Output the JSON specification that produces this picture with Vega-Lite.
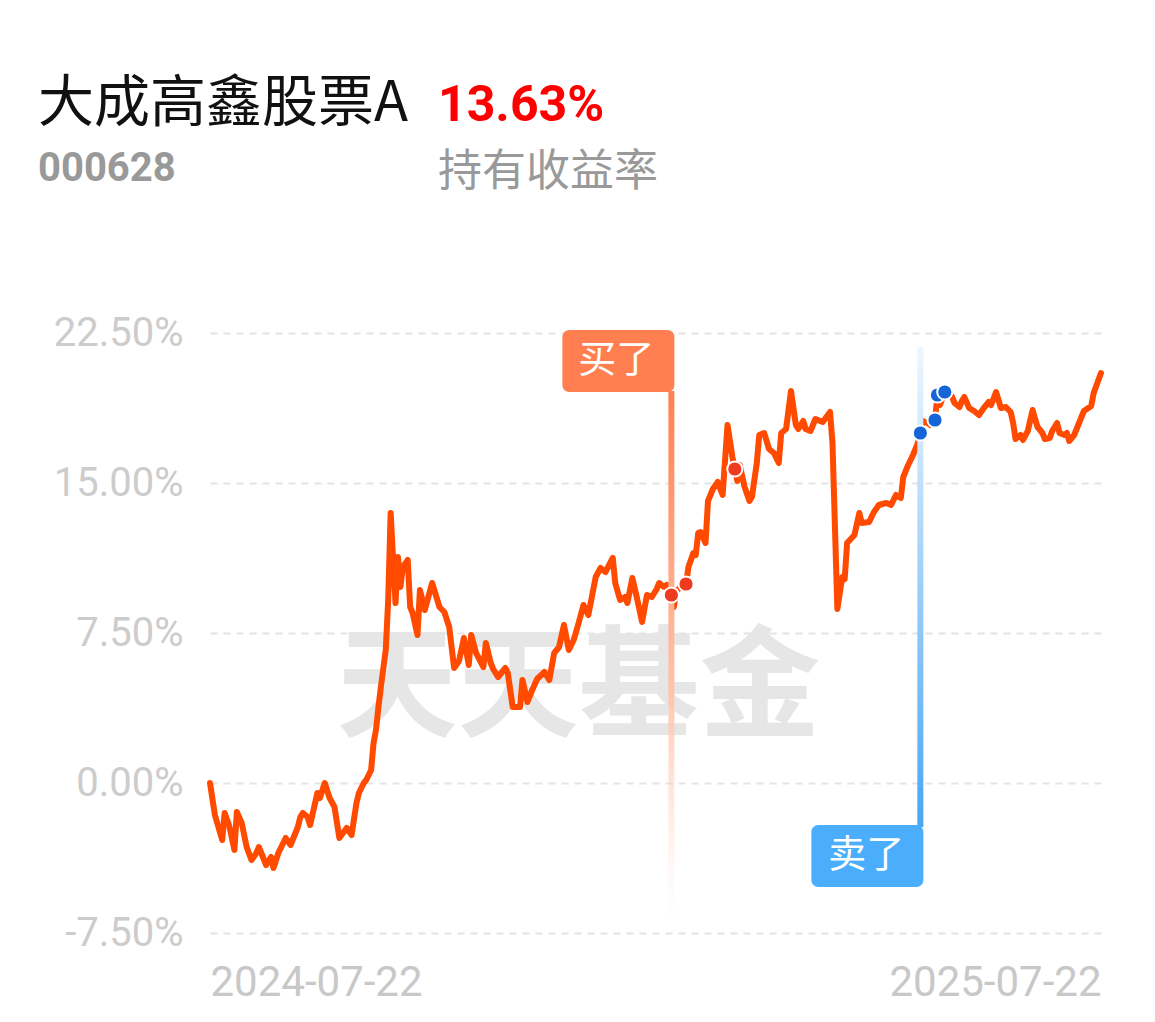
{
  "$schema": "https://vega.github.io/schema/vega-lite/v6.json",
  "background": "white",
  "padding": {"left": 38, "top": 76, "right": 20, "bottom": 16},
  "config": {"view": {"stroke": null}, "font": "Noto Sans CJK SC"},
  "datasets": {
    "nav": [
      {"date":"2024-07-22","value":0.0},{"date":"2024-07-24","value":-1.6},{"date":"2024-07-27","value":-2.85},{"date":"2024-07-28","value":-1.5},{"date":"2024-07-30","value":-2.2},
      {"date":"2024-08-01","value":-3.35},{"date":"2024-08-02","value":-1.45},{"date":"2024-08-04","value":-2.0},{"date":"2024-08-06","value":-3.2},{"date":"2024-08-08","value":-3.85},
      {"date":"2024-08-10","value":-3.5},{"date":"2024-08-11","value":-3.2},{"date":"2024-08-14","value":-4.1},{"date":"2024-08-16","value":-3.7},{"date":"2024-08-17","value":-4.25},
      {"date":"2024-08-19","value":-3.5},{"date":"2024-08-22","value":-2.75},{"date":"2024-08-24","value":-3.1},{"date":"2024-08-27","value":-2.2},{"date":"2024-08-28","value":-1.7},
      {"date":"2024-08-29","value":-1.5},{"date":"2024-08-31","value":-1.7},{"date":"2024-09-01","value":-2.1},{"date":"2024-09-04","value":-0.5},{"date":"2024-09-05","value":-0.75},
      {"date":"2024-09-07","value":0.0},{"date":"2024-09-09","value":-0.75},{"date":"2024-09-11","value":-1.2},{"date":"2024-09-13","value":-2.75},{"date":"2024-09-16","value":-2.25},
      {"date":"2024-09-18","value":-2.6},{"date":"2024-09-20","value":-1.0},{"date":"2024-09-21","value":-0.5},{"date":"2024-09-23","value":0.0},{"date":"2024-09-24","value":0.15},
      {"date":"2024-09-26","value":0.65},{"date":"2024-09-27","value":2.0},{"date":"2024-09-28","value":2.65},{"date":"2024-09-29","value":3.8},{"date":"2024-09-30","value":4.8},
      {"date":"2024-10-02","value":6.65},{"date":"2024-10-03","value":9.15},{"date":"2024-10-04","value":13.5},{"date":"2024-10-06","value":9.0},{"date":"2024-10-07","value":11.3},
      {"date":"2024-10-08","value":9.8},{"date":"2024-10-09","value":10.8},{"date":"2024-10-11","value":11.15},{"date":"2024-10-12","value":8.8},{"date":"2024-10-13","value":8.5},
      {"date":"2024-10-15","value":7.4},{"date":"2024-10-16","value":9.65},{"date":"2024-10-18","value":8.65},{"date":"2024-10-21","value":10.0},{"date":"2024-10-23","value":9.2},
      {"date":"2024-10-24","value":8.8},{"date":"2024-10-26","value":8.55},{"date":"2024-10-28","value":7.8},{"date":"2024-10-30","value":5.75},{"date":"2024-11-01","value":6.1},
      {"date":"2024-11-03","value":7.25},{"date":"2024-11-05","value":5.9},{"date":"2024-11-06","value":7.4},{"date":"2024-11-08","value":6.5},{"date":"2024-11-11","value":5.8},
      {"date":"2024-11-12","value":7.0},{"date":"2024-11-14","value":6.0},{"date":"2024-11-15","value":5.7},{"date":"2024-11-17","value":5.3},{"date":"2024-11-20","value":5.75},
      {"date":"2024-11-21","value":5.5},{"date":"2024-11-23","value":3.8},{"date":"2024-11-26","value":3.8},{"date":"2024-11-27","value":5.15},{"date":"2024-11-29","value":4.05},
      {"date":"2024-12-01","value":4.65},{"date":"2024-12-03","value":5.2},{"date":"2024-12-06","value":5.55},{"date":"2024-12-08","value":5.15},{"date":"2024-12-10","value":6.5},
      {"date":"2024-12-12","value":6.8},{"date":"2024-12-14","value":7.9},{"date":"2024-12-16","value":6.65},{"date":"2024-12-18","value":7.15},{"date":"2024-12-20","value":8.0},
      {"date":"2024-12-22","value":8.9},{"date":"2024-12-24","value":8.4},{"date":"2024-12-27","value":10.3},{"date":"2024-12-29","value":10.75},{"date":"2024-12-31","value":10.55},
      {"date":"2025-01-03","value":11.25},{"date":"2025-01-04","value":10.0},{"date":"2025-01-06","value":9.15},{"date":"2025-01-08","value":9.3},{"date":"2025-01-09","value":9.0},
      {"date":"2025-01-11","value":10.25},{"date":"2025-01-13","value":9.2},{"date":"2025-01-15","value":8.05},{"date":"2025-01-17","value":9.4},{"date":"2025-01-19","value":9.3},
      {"date":"2025-01-21","value":9.7},{"date":"2025-01-22","value":10.0},{"date":"2025-01-24","value":9.8},{"date":"2025-01-25","value":9.9},{"date":"2025-01-27","value":9.4},
      {"date":"2025-01-28","value":8.8},{"date":"2025-01-29","value":9.6},{"date":"2025-01-31","value":9.8},{"date":"2025-02-02","value":9.95},{"date":"2025-02-03","value":10.8},
      {"date":"2025-02-05","value":11.5},{"date":"2025-02-06","value":11.4},{"date":"2025-02-07","value":12.5},{"date":"2025-02-08","value":12.55},{"date":"2025-02-10","value":12.0},
      {"date":"2025-02-11","value":14.1},{"date":"2025-02-13","value":14.7},{"date":"2025-02-15","value":15.05},{"date":"2025-02-17","value":14.4},{"date":"2025-02-19","value":17.9},
      {"date":"2025-02-21","value":16.3},{"date":"2025-02-22","value":15.7},{"date":"2025-02-23","value":15.1},{"date":"2025-02-24","value":15.9},{"date":"2025-02-26","value":14.8},
      {"date":"2025-02-28","value":14.1},{"date":"2025-03-01","value":14.3},{"date":"2025-03-03","value":16.0},{"date":"2025-03-04","value":17.4},{"date":"2025-03-06","value":17.5},
      {"date":"2025-03-08","value":16.7},{"date":"2025-03-10","value":16.5},{"date":"2025-03-12","value":16.0},{"date":"2025-03-13","value":17.5},{"date":"2025-03-15","value":17.7},
      {"date":"2025-03-17","value":19.6},{"date":"2025-03-19","value":17.9},{"date":"2025-03-20","value":17.7},{"date":"2025-03-22","value":18.1},{"date":"2025-03-23","value":17.7},
      {"date":"2025-03-25","value":17.6},{"date":"2025-03-27","value":18.2},{"date":"2025-03-29","value":18.1},{"date":"2025-03-30","value":18.05},{"date":"2025-04-02","value":18.55},
      {"date":"2025-04-03","value":17.0},{"date":"2025-04-05","value":8.7},{"date":"2025-04-07","value":10.3},{"date":"2025-04-08","value":10.2},{"date":"2025-04-09","value":12.0},
      {"date":"2025-04-12","value":12.4},{"date":"2025-04-14","value":13.5},{"date":"2025-04-15","value":13.0},{"date":"2025-04-18","value":13.05},{"date":"2025-04-20","value":13.55},
      {"date":"2025-04-22","value":13.9},{"date":"2025-04-25","value":14.0},{"date":"2025-04-27","value":13.9},{"date":"2025-04-29","value":14.4},{"date":"2025-05-01","value":14.25},
      {"date":"2025-05-02","value":15.3},{"date":"2025-05-04","value":15.9},{"date":"2025-05-06","value":16.4},{"date":"2025-05-08","value":17.0},{"date":"2025-05-09","value":17.5},
      {"date":"2025-05-10","value":18.1},{"date":"2025-05-12","value":18.0},{"date":"2025-05-13","value":17.9},{"date":"2025-05-15","value":18.15},{"date":"2025-05-16","value":19.4},
      {"date":"2025-05-17","value":18.9},{"date":"2025-05-19","value":19.55},{"date":"2025-05-20","value":19.6},{"date":"2025-05-22","value":19.3},{"date":"2025-05-23","value":19.0},
      {"date":"2025-05-25","value":18.8},{"date":"2025-05-26","value":19.1},{"date":"2025-05-27","value":19.3},{"date":"2025-05-29","value":18.75},{"date":"2025-05-31","value":18.6},
      {"date":"2025-06-02","value":18.4},{"date":"2025-06-04","value":18.75},{"date":"2025-06-06","value":19.05},{"date":"2025-06-07","value":18.9},{"date":"2025-06-09","value":19.55},
      {"date":"2025-06-11","value":18.75},{"date":"2025-06-13","value":18.8},{"date":"2025-06-15","value":18.55},{"date":"2025-06-16","value":18.0},{"date":"2025-06-17","value":17.2},
      {"date":"2025-06-19","value":17.4},{"date":"2025-06-20","value":17.15},{"date":"2025-06-22","value":17.6},{"date":"2025-06-24","value":18.65},{"date":"2025-06-25","value":18.2},
      {"date":"2025-06-26","value":17.8},{"date":"2025-06-28","value":17.5},{"date":"2025-06-29","value":17.2},{"date":"2025-07-01","value":17.25},{"date":"2025-07-02","value":17.6},
      {"date":"2025-07-04","value":18.0},{"date":"2025-07-05","value":17.5},{"date":"2025-07-07","value":17.4},{"date":"2025-07-08","value":17.5},{"date":"2025-07-09","value":17.1},
      {"date":"2025-07-11","value":17.4},{"date":"2025-07-13","value":18.0},{"date":"2025-07-15","value":18.6},{"date":"2025-07-18","value":18.85},{"date":"2025-07-19","value":19.5},
      {"date":"2025-07-22","value":20.5}
    ],
    "trades": [
      {"date":"2025-01-27","value":9.4,"side":"buy"},
      {"date":"2025-02-02","value":9.95,"side":"buy"},
      {"date":"2025-02-22","value":15.7,"side":"buy"},
      {"date":"2025-05-09","value":17.5,"side":"sell"},
      {"date":"2025-05-15","value":18.15,"side":"sell"},
      {"date":"2025-05-16","value":19.4,"side":"sell"},
      {"date":"2025-05-19","value":19.55,"side":"sell"}
    ],
    "flags": [
      {"date":"2025-01-27","label":"买了","side":"buy"},
      {"date":"2025-05-09","label":"卖了","side":"sell"}
    ],
    "watermark": [
      {"date":"2024-12-20","value":4.6,"label":"天天基金"}
    ]
  },
  "spacing": 116,
  "vconcat": [
    {
      "spacing": 3,
      "hconcat": [
        {
          "width": 225, "height": 1,
          "data": {"values": []},
          "mark": "point",
          "encoding": {},
          "title": {
            "text": "大成高鑫股票A", "subtitle": "000628", "anchor": "start", "offset": 5, "dx": -172,
            "font": "Noto Sans CJK SC", "fontSize": 56, "fontWeight": "normal", "color": "#111111",
            "subtitleFont": "Roboto", "subtitleFontSize": 40, "subtitleFontWeight": "bold",
            "subtitleColor": "#999999", "subtitlePadding": 16
          }
        },
        {
          "width": 230, "height": 1,
          "data": {"values": []},
          "mark": "point",
          "encoding": {},
          "title": {
            "text": "13.63%", "subtitle": "持有收益率", "anchor": "start", "offset": 0,
            "font": "Roboto", "fontSize": 50, "fontWeight": "bold", "color": "#FF0000",
            "subtitleFont": "Noto Sans CJK SC", "subtitleFontSize": 44, "subtitleFontWeight": "normal",
            "subtitleColor": "#999999", "subtitlePadding": 20
          }
        }
      ]
    },
    {
      "width": 891, "height": 605,
      "layer": [
        {
          "data": {"name": "watermark"},
          "mark": {"type": "text", "font": "Noto Sans CJK SC", "fontWeight": "bold", "fontSize": 121, "color": "#E6E6E6", "align": "center", "baseline": "middle"},
          "encoding": {
            "x": {"field": "date", "type": "temporal", "title": null},
            "y": {"field": "value", "type": "quantitative", "title": null},
            "text": {"field": "label"}
          }
        },
        {
          "data": {"name": "nav"},
          "mark": {"type": "line", "color": "#FF4A00", "strokeWidth": 6, "strokeJoin": "round", "strokeCap": "round"},
          "encoding": {
            "x": {
              "field": "date", "type": "temporal", "title": null,
              "scale": {"type": "utc", "domain": [{"year": 2024, "month": 7, "date": 22, "utc": true}, {"year": 2025, "month": 7, "date": 22, "utc": true}]},
              "axis": {
                "title": null, "values": [{"year": 2024, "month": 7, "date": 22, "utc": true}, {"year": 2025, "month": 7, "date": 22, "utc": true}],
                "format": "%Y-%m-%d", "labelFlush": true, "labelLimit": 500, "labelFont": "Roboto", "labelFontSize": 42, "labelColor": "#C8C8C8",
                "labelPadding": 29, "ticks": false, "domain": false, "grid": false
              }
            },
            "y": {
              "field": "value", "type": "quantitative", "title": null,
              "scale": {"domain": [-7.5, 22.75], "nice": false, "zero": false},
              "axis": {
                "title": null, "values": [-7.5, 0, 7.5, 15, 22.5], "labelExpr": "(datum.value < 0 ? '-' : '') + format(abs(datum.value), '.2f') + '%'",
                "labelFont": "Roboto", "labelFontSize": 40, "labelColor": "#CCCCCC", "labelPadding": 27, "labelLimit": 300,
                "ticks": false, "domain": false, "grid": true, "gridColor": "#E4E4E4", "gridWidth": 2, "gridDash": [7, 6],
                "minExtent": 172, "maxExtent": 172
              }
            }
          }
        },
        {
          "data": {"name": "flags"},
          "transform": [{"filter": "datum.side === 'buy'"}],
          "mark": {"type": "rect", "width": 6, "fill": {"gradient": "linear", "x1": 0, "y1": 0, "x2": 0, "y2": 1, "stops": [{"offset": 0, "color": "#FF8050"}, {"offset": 0.55, "color": "#FFC2A8"}, {"offset": 1, "color": "rgba(255,230,220,0)"}]}},
          "encoding": {
            "x": {"field": "date", "type": "temporal", "title": null},
            "y": {"datum": 19.6, "type": "quantitative", "title": null},
            "y2": {"datum": -6.95}
          }
        },
        {
          "data": {"name": "flags"},
          "transform": [{"filter": "datum.side === 'sell'"}],
          "mark": {"type": "rect", "width": 6, "fill": {"gradient": "linear", "x1": 0, "y1": 0, "x2": 0, "y2": 1, "stops": [{"offset": 0, "color": "#EEF7FF"}, {"offset": 1, "color": "#48A6F4"}]}},
          "encoding": {
            "x": {"field": "date", "type": "temporal", "title": null},
            "y": {"datum": 21.8, "type": "quantitative", "title": null},
            "y2": {"datum": -2.2}
          }
        },
        {
          "data": {"name": "flags"},
          "transform": [{"filter": "datum.side === 'buy'"}],
          "mark": {"type": "rect", "width": 112, "height": 62, "xOffset": -53, "cornerRadius": 7, "fill": "#FF7F50"},
          "encoding": {
            "x": {"field": "date", "type": "temporal", "title": null},
            "y": {"datum": 21.1, "type": "quantitative", "title": null}
          }
        },
        {
          "data": {"name": "flags"},
          "transform": [{"filter": "datum.side === 'buy'"}],
          "mark": {"type": "text", "xOffset": -55, "font": "Noto Sans CJK SC", "fontSize": 38, "color": "white", "align": "center", "baseline": "middle"},
          "encoding": {
            "x": {"field": "date", "type": "temporal", "title": null},
            "y": {"datum": 21.1, "type": "quantitative", "title": null},
            "text": {"field": "label"}
          }
        },
        {
          "data": {"name": "flags"},
          "transform": [{"filter": "datum.side === 'sell'"}],
          "mark": {"type": "rect", "width": 112, "height": 62, "xOffset": -53, "cornerRadius": 7, "fill": "#4BAEFD"},
          "encoding": {
            "x": {"field": "date", "type": "temporal", "title": null},
            "y": {"datum": -3.65, "type": "quantitative", "title": null}
          }
        },
        {
          "data": {"name": "flags"},
          "transform": [{"filter": "datum.side === 'sell'"}],
          "mark": {"type": "text", "xOffset": -54, "font": "Noto Sans CJK SC", "fontSize": 38, "color": "white", "align": "center", "baseline": "middle"},
          "encoding": {
            "x": {"field": "date", "type": "temporal", "title": null},
            "y": {"datum": -3.65, "type": "quantitative", "title": null},
            "text": {"field": "label"}
          }
        },
        {
          "data": {"name": "trades"},
          "mark": {"type": "point", "filled": true, "size": 230, "stroke": "white", "strokeWidth": 2, "opacity": 1, "strokeOpacity": 1},
          "encoding": {
            "x": {"field": "date", "type": "temporal", "title": null},
            "y": {"field": "value", "type": "quantitative", "title": null},
            "color": {"field": "side", "type": "nominal", "scale": {"domain": ["buy", "sell"], "range": ["#EE3A1E", "#1565D8"]}, "legend": null}
          }
        }
      ]
    }
  ]
}
